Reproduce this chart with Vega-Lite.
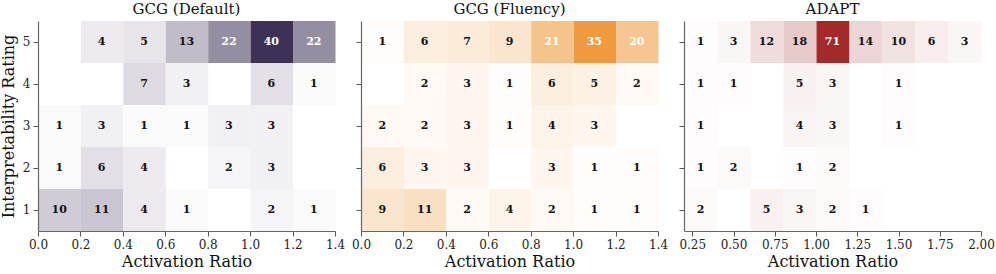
{
  "$schema": "https://vega.github.io/schema/vega-lite/v6.json",
  "padding": {"left": 0, "top": 2, "right": 5, "bottom": 2},
  "background": "white",
  "datasets": {
    "d1": [
      {"ratio":0.3,"r":5,"n":4},{"ratio":0.5,"r":5,"n":5},{"ratio":0.7,"r":5,"n":13},{"ratio":0.9,"r":5,"n":22},{"ratio":1.1,"r":5,"n":40},{"ratio":1.3,"r":5,"n":22},
      {"ratio":0.5,"r":4,"n":7},{"ratio":0.7,"r":4,"n":3},{"ratio":1.1,"r":4,"n":6},{"ratio":1.3,"r":4,"n":1},
      {"ratio":0.1,"r":3,"n":1},{"ratio":0.3,"r":3,"n":3},{"ratio":0.5,"r":3,"n":1},{"ratio":0.7,"r":3,"n":1},{"ratio":0.9,"r":3,"n":3},{"ratio":1.1,"r":3,"n":3},
      {"ratio":0.1,"r":2,"n":1},{"ratio":0.3,"r":2,"n":6},{"ratio":0.5,"r":2,"n":4},{"ratio":0.9,"r":2,"n":2},{"ratio":1.1,"r":2,"n":3},
      {"ratio":0.1,"r":1,"n":10},{"ratio":0.3,"r":1,"n":11},{"ratio":0.5,"r":1,"n":4},{"ratio":0.7,"r":1,"n":1},{"ratio":1.1,"r":1,"n":2},{"ratio":1.3,"r":1,"n":1}
    ],
    "d2": [
      {"ratio":0.1,"r":5,"n":1},{"ratio":0.3,"r":5,"n":6},{"ratio":0.5,"r":5,"n":7},{"ratio":0.7,"r":5,"n":9},{"ratio":0.9,"r":5,"n":21},{"ratio":1.1,"r":5,"n":35},{"ratio":1.3,"r":5,"n":20},
      {"ratio":0.3,"r":4,"n":2},{"ratio":0.5,"r":4,"n":3},{"ratio":0.7,"r":4,"n":1},{"ratio":0.9,"r":4,"n":6},{"ratio":1.1,"r":4,"n":5},{"ratio":1.3,"r":4,"n":2},
      {"ratio":0.1,"r":3,"n":2},{"ratio":0.3,"r":3,"n":2},{"ratio":0.5,"r":3,"n":3},{"ratio":0.7,"r":3,"n":1},{"ratio":0.9,"r":3,"n":4},{"ratio":1.1,"r":3,"n":3},
      {"ratio":0.1,"r":2,"n":6},{"ratio":0.3,"r":2,"n":3},{"ratio":0.5,"r":2,"n":3},{"ratio":0.9,"r":2,"n":3},{"ratio":1.1,"r":2,"n":1},{"ratio":1.3,"r":2,"n":1},
      {"ratio":0.1,"r":1,"n":9},{"ratio":0.3,"r":1,"n":11},{"ratio":0.5,"r":1,"n":2},{"ratio":0.7,"r":1,"n":4},{"ratio":0.9,"r":1,"n":2},{"ratio":1.1,"r":1,"n":1},{"ratio":1.3,"r":1,"n":1}
    ],
    "d3": [
      {"ratio":0.3,"r":5,"n":1},{"ratio":0.5,"r":5,"n":3},{"ratio":0.7,"r":5,"n":12},{"ratio":0.9,"r":5,"n":18},{"ratio":1.1,"r":5,"n":71},{"ratio":1.3,"r":5,"n":14},{"ratio":1.5,"r":5,"n":10},{"ratio":1.7,"r":5,"n":6},{"ratio":1.9,"r":5,"n":3},
      {"ratio":0.3,"r":4,"n":1},{"ratio":0.5,"r":4,"n":1},{"ratio":0.9,"r":4,"n":5},{"ratio":1.1,"r":4,"n":3},{"ratio":1.5,"r":4,"n":1},
      {"ratio":0.3,"r":3,"n":1},{"ratio":0.9,"r":3,"n":4},{"ratio":1.1,"r":3,"n":3},{"ratio":1.5,"r":3,"n":1},
      {"ratio":0.3,"r":2,"n":1},{"ratio":0.5,"r":2,"n":2},{"ratio":0.9,"r":2,"n":1},{"ratio":1.1,"r":2,"n":2},
      {"ratio":0.3,"r":1,"n":2},{"ratio":0.7,"r":1,"n":5},{"ratio":0.9,"r":1,"n":3},{"ratio":1.1,"r":1,"n":2},{"ratio":1.3,"r":1,"n":1}
    ]
  },
  "config": {
    "font": "DejaVu Serif",
    "view": {"stroke": null},
    "axis": {"labelFont": "DejaVu Serif", "titleFont": "DejaVu Serif", "labelFontSize": 12, "titleFontSize": 16, "titleFontWeight": "normal", "labelColor": "#222222", "titleColor": "#111111", "domainColor": "#666666", "tickColor": "#555555", "domainWidth": 1.2, "grid": false, "tickSize": 5, "labelPadding": 3, "titlePadding": 3},
    "title": {"font": "DejaVu Serif", "fontSize": 15, "fontWeight": "normal", "color": "#111111", "offset": 4}
  },
  "bounds": "flush",
  "spacing": 26,
  "resolve": {"scale": {"color": "independent", "x": "independent", "y": "independent"}},
  "hconcat": [
    {
      "title": "GCG (Default)",
      "width": 297, "height": 210,
      "data": {"name": "d1"},
      "encoding": {
        "x": {"field": "ratio", "type": "quantitative", "bin": {"extent": [0, 1.4], "step": 0.2}, "scale": {"domain": [0, 1.4], "nice": false}, "axis": {"title": "Activation Ratio", "values": [0,0.2,0.4,0.6,0.8,1.0,1.2,1.4], "format": ".1f", "labelFlush": false}},
        "y": {"field": "r", "type": "ordinal", "sort": "descending", "scale": {"paddingInner": 0, "paddingOuter": 0}, "axis": {"title": "Interpretability Rating", "labelAngle": 0, "titlePadding": 6}}
      },
      "layer": [
        {"mark": {"type": "rect"}, "encoding": {
          "color": {"field": "n", "type": "quantitative", "scale": {"domain": [0, 40], "range": ["#ffffff", "#3e3156"], "interpolate": "rgb"}, "legend": null}
        }},
        {"mark": {"type": "text", "fontWeight": "bold", "fontSize": 11, "font": "DejaVu Serif"}, "encoding": {
          "text": {"field": "n", "type": "quantitative"},
          "color": {"condition": {"test": "datum.n > 20", "value": "#ffffff"}, "value": "#111111"}
        }}
      ]
    },
    {
      "title": "GCG (Fluency)",
      "width": 297, "height": 210,
      "data": {"name": "d2"},
      "encoding": {
        "x": {"field": "ratio", "type": "quantitative", "bin": {"extent": [0, 1.4], "step": 0.2}, "scale": {"domain": [0, 1.4], "nice": false}, "axis": {"title": "Activation Ratio", "values": [0,0.2,0.4,0.6,0.8,1.0,1.2,1.4], "format": ".1f", "labelFlush": false}},
        "y": {"field": "r", "type": "ordinal", "sort": "descending", "scale": {"paddingInner": 0, "paddingOuter": 0}, "axis": {"title": null, "labels": false}}
      },
      "layer": [
        {"mark": {"type": "rect"}, "encoding": {
          "color": {"field": "n", "type": "quantitative", "scale": {"domain": [0, 35], "range": ["#ffffff", "#ee9b40"], "interpolate": "rgb"}, "legend": null}
        }},
        {"mark": {"type": "text", "fontWeight": "bold", "fontSize": 11, "font": "DejaVu Serif"}, "encoding": {
          "text": {"field": "n", "type": "quantitative"},
          "color": {"condition": {"test": "datum.n > 17", "value": "#ffffff"}, "value": "#111111"}
        }}
      ]
    },
    {
      "title": "ADAPT",
      "width": 297, "height": 210,
      "data": {"name": "d3"},
      "encoding": {
        "x": {"field": "ratio", "type": "quantitative", "bin": {"extent": [0.2, 2.0], "step": 0.2}, "scale": {"domain": [0.2, 2.0], "nice": false}, "axis": {"title": "Activation Ratio", "values": [0.25,0.5,0.75,1.0,1.25,1.5,1.75,2.0], "format": ".2f", "labelFlush": false}},
        "y": {"field": "r", "type": "ordinal", "sort": "descending", "scale": {"paddingInner": 0, "paddingOuter": 0}, "axis": {"title": null, "labels": false}}
      },
      "layer": [
        {"mark": {"type": "rect"}, "encoding": {
          "color": {"field": "n", "type": "quantitative", "scale": {"domain": [0, 71], "range": ["#ffffff", "#a3292a"], "interpolate": "rgb"}, "legend": null}
        }},
        {"mark": {"type": "text", "fontWeight": "bold", "fontSize": 11, "font": "DejaVu Serif"}, "encoding": {
          "text": {"field": "n", "type": "quantitative"},
          "color": {"condition": {"test": "datum.n > 35", "value": "#ffffff"}, "value": "#111111"}
        }}
      ]
    }
  ]
}
